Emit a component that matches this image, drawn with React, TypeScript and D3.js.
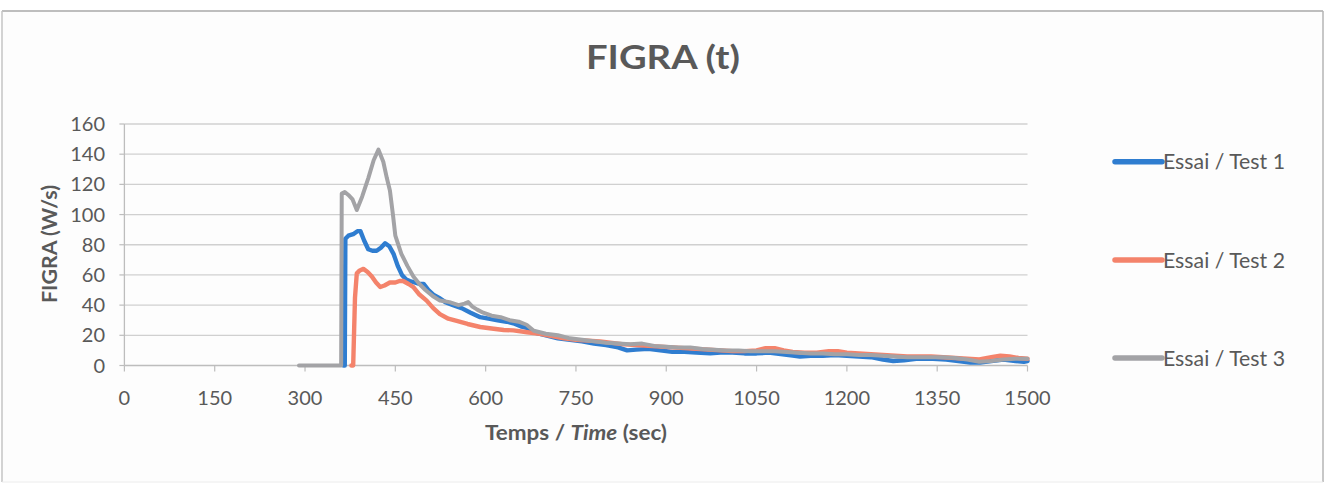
import React from "react";
import * as d3 from "d3";

const title = "FIGRA (t)";
const xTicks = [0, 150, 300, 450, 600, 750, 900, 1050, 1200, 1350, 1500];
const yTicks = [0, 20, 40, 60, 80, 100, 120, 140, 160];
const seriesNames = ["Essai / Test 1", "Essai / Test 2", "Essai / Test 3"];
const seriesColors = ["#2f7dd0", "#f4836b", "#a3a3a6"];

const test1: [number, number][] = [
  [364, 0], [366, 0], [367, 84], [372, 86], [380, 87], [387, 89], [392, 89], [398, 83], [405, 77], [412, 76],
  [419, 76], [426, 78], [433, 81], [440, 79], [447, 74], [454, 66], [461, 60], [468, 57],
  [474, 56], [482, 55], [490, 54], [497, 54], [505, 50], [513, 47], [522, 45], [533, 42], [546, 40], [560, 38],
  [575, 35], [591, 32], [605, 31], [620, 30], [635, 29], [646, 28], [658, 26], [668, 25], [680, 22], [700, 20],
  [720, 18], [740, 17], [760, 16], [780, 14.5], [800, 13.5], [820, 12], [835, 10], [850, 10.5], [870, 11], [890, 10],
  [910, 9], [930, 9], [950, 8.5], [973, 8], [990, 8.5], [1010, 8.5], [1030, 8], [1050, 8], [1070, 8.5], [1090, 7.5],
  [1110, 6.5], [1122, 6], [1140, 6.5], [1160, 6.5], [1180, 7], [1200, 6.5], [1220, 6], [1240, 5.5], [1260, 4], [1277, 3],
  [1295, 3.5], [1315, 4.5], [1343, 4.5], [1365, 4], [1385, 3], [1405, 2], [1421, 2], [1440, 3], [1460, 4], [1480, 3],
  [1494, 2.5], [1500, 3],
];

const test2: [number, number][] = [
  [377, 0], [380, 0], [383, 45], [386, 61], [391, 63], [397, 64], [404, 62], [411, 59], [418, 55], [425, 52],
  [432, 53], [441, 55], [450, 55], [457, 56], [463, 56], [472, 54], [480, 52], [490, 47], [502, 43], [513, 38],
  [524, 34], [538, 31], [552, 29.5], [570, 27.5], [591, 25.5], [610, 24.5], [630, 23.5], [646, 23.3], [669, 22], [690, 21],
  [710, 19.5], [730, 18], [750, 17], [770, 16.5], [790, 16], [810, 15], [830, 14], [850, 13.5], [870, 13], [890, 12.5],
  [910, 12], [930, 11.5], [950, 11], [970, 10.5], [990, 10], [1010, 9.5], [1030, 9.5], [1050, 10], [1065, 11.5], [1080, 11.5],
  [1095, 10], [1110, 9], [1130, 8.5], [1150, 8.5], [1170, 9.5], [1185, 9.5], [1200, 8.5], [1220, 8], [1240, 7.5], [1260, 7],
  [1280, 6.5], [1300, 6], [1320, 6], [1340, 6], [1360, 5.5], [1380, 5], [1400, 4.5], [1420, 4], [1440, 5.5], [1455, 6.5],
  [1470, 6], [1485, 5], [1500, 4.5],
];

const test3: [number, number][] = [
  [290, 0], [360, 0], [361, 114], [366, 115], [372, 113], [379, 110], [386, 103], [395, 112], [405, 124], [414, 136],
  [422, 143], [430, 135], [436, 124], [441, 116], [446, 100], [450, 86], [455, 80], [460, 74], [470, 66], [480, 59],
  [490, 54], [500, 50], [512, 46], [524, 43], [540, 42], [555, 40], [565, 41], [571, 42], [578, 39], [586, 37],
  [596, 35], [610, 33], [625, 32], [640, 30], [655, 29], [668, 27], [680, 23], [700, 21], [720, 20], [740, 18],
  [760, 17], [780, 16], [800, 15], [820, 14.5], [840, 14], [860, 14.5], [880, 13], [900, 12.5], [920, 12], [940, 12],
  [960, 11], [980, 10.5], [1000, 10], [1020, 10], [1040, 9.5], [1060, 9.5], [1080, 9.5], [1100, 9], [1120, 8.5], [1140, 8],
  [1160, 8], [1180, 7.5], [1200, 7.5], [1220, 7], [1240, 7], [1260, 6.5], [1280, 6], [1300, 5.5], [1320, 5.5], [1340, 5.5],
  [1360, 5.5], [1380, 5], [1400, 4], [1420, 2.5], [1440, 3], [1460, 4], [1480, 4.5], [1500, 4.5],
];

const seriesData = [test1, test2, test3];
const seriesWidths = [4.4, 4.4, 4];

const W = 1332;
const H = 486;
const FONT = "Lato, 'Open Sans', sans-serif";
const TEXT = "#595959";

export default function App() {
  const x = d3.scaleLinear().domain([0, 1500]).range([124.4, 1027.5]);
  const y = d3.scaleLinear().domain([0, 160]).range([365.5, 124]);
  const line = d3
    .line<[number, number]>()
    .x((d) => x(d[0]))
    .y((d) => y(d[1]));

  const legendY = [161.7, 260, 358];

  return (
    <svg
      width={W}
      height={H}
      style={{ position: "absolute", left: 0, top: 0, background: "#fff" }}
    >
      <rect x={2} y={11} width={1321} height={471} fill="#fdfdfd" stroke="none" />
      <line x1={2} x2={1323} y1={11} y2={11} stroke="#a8a8a8" strokeWidth={1.5} />
      <line x1={2} x2={2} y1={11} y2={482} stroke="#c4c4c4" strokeWidth={1.5} />
      <line x1={1323} x2={1323} y1={11} y2={482} stroke="#b4b4b4" strokeWidth={1.5} />
      <line x1={2} x2={1323} y1={482} y2={482} stroke="#ececec" strokeWidth={1} />

      <text
        x={663}
        y={69}
        textAnchor="middle"
        fontFamily={FONT}
        fontWeight={700}
        fontSize={32}
        fill={TEXT}
        textLength={154}
        lengthAdjust="spacingAndGlyphs"
      >
        {title}
      </text>

      {yTicks.map((t) => (
        <g key={"y" + t}>
          <line x1={x(0)} x2={x(1500)} y1={y(t)} y2={y(t)} stroke={t === 0 ? "#bdbdbd" : "#d0d0d0"} strokeWidth={1.3} />
          <line x1={x(0) - 5} x2={x(0)} y1={y(t)} y2={y(t)} stroke="#bdbdbd" strokeWidth={1.2} />
          <text
            x={105}
            y={y(t) + 7}
            textAnchor="end"
            fontFamily={FONT}
            fontSize={20}
            fill={TEXT}
          >
            {t}
          </text>
        </g>
      ))}
      <line x1={x(0)} x2={x(0)} y1={y(160)} y2={y(0)} stroke="#bdbdbd" strokeWidth={1.3} />

      {xTicks.map((t) => (
        <g key={"x" + t}>
          <line x1={x(t)} x2={x(t)} y1={y(0)} y2={y(0) + 6} stroke="#bdbdbd" strokeWidth={1.2} />
          <text
            x={x(t)}
            y={405}
            textAnchor="middle"
            fontFamily={FONT}
            fontSize={20}
            fill={TEXT}
          >
            {t}
          </text>
        </g>
      ))}

      {seriesData.map((d, i) => (
        <path
          key={"s" + i}
          d={line(d) || ""}
          fill="none"
          stroke={seriesColors[i]}
          strokeWidth={seriesWidths[i]}
          strokeLinejoin="round"
          strokeLinecap="round"
        />
      ))}

      <text
        x={576}
        y={440}
        textAnchor="middle"
        fontFamily={FONT}
        fontWeight={700}
        fontSize={21}
        fill={TEXT}
        textLength={182}
        lengthAdjust="spacingAndGlyphs"
      >
        Temps / <tspan fontStyle="italic">Time</tspan> (sec)
      </text>
      <text
        transform={`translate(57,${244}) rotate(-90)`}
        textAnchor="middle"
        fontFamily={FONT}
        fontWeight={700}
        fontSize={20}
        fill={TEXT}
        textLength={118}
        lengthAdjust="spacingAndGlyphs"
      >
        FIGRA (W/s)
      </text>

      {seriesNames.map((n, i) => (
        <g key={"l" + i}>
          <line
            x1={1115}
            x2={1162}
            y1={legendY[i]}
            y2={legendY[i]}
            stroke={seriesColors[i]}
            strokeWidth={5.5}
            strokeLinecap="round"
          />
          <text
            x={1163}
            y={legendY[i] + 7.5}
            fontFamily={FONT}
            fontSize={22}
            fill={TEXT}
            textLength={122}
            lengthAdjust="spacingAndGlyphs"
          >
            {n}
          </text>
        </g>
      ))}
    </svg>
  );
}
